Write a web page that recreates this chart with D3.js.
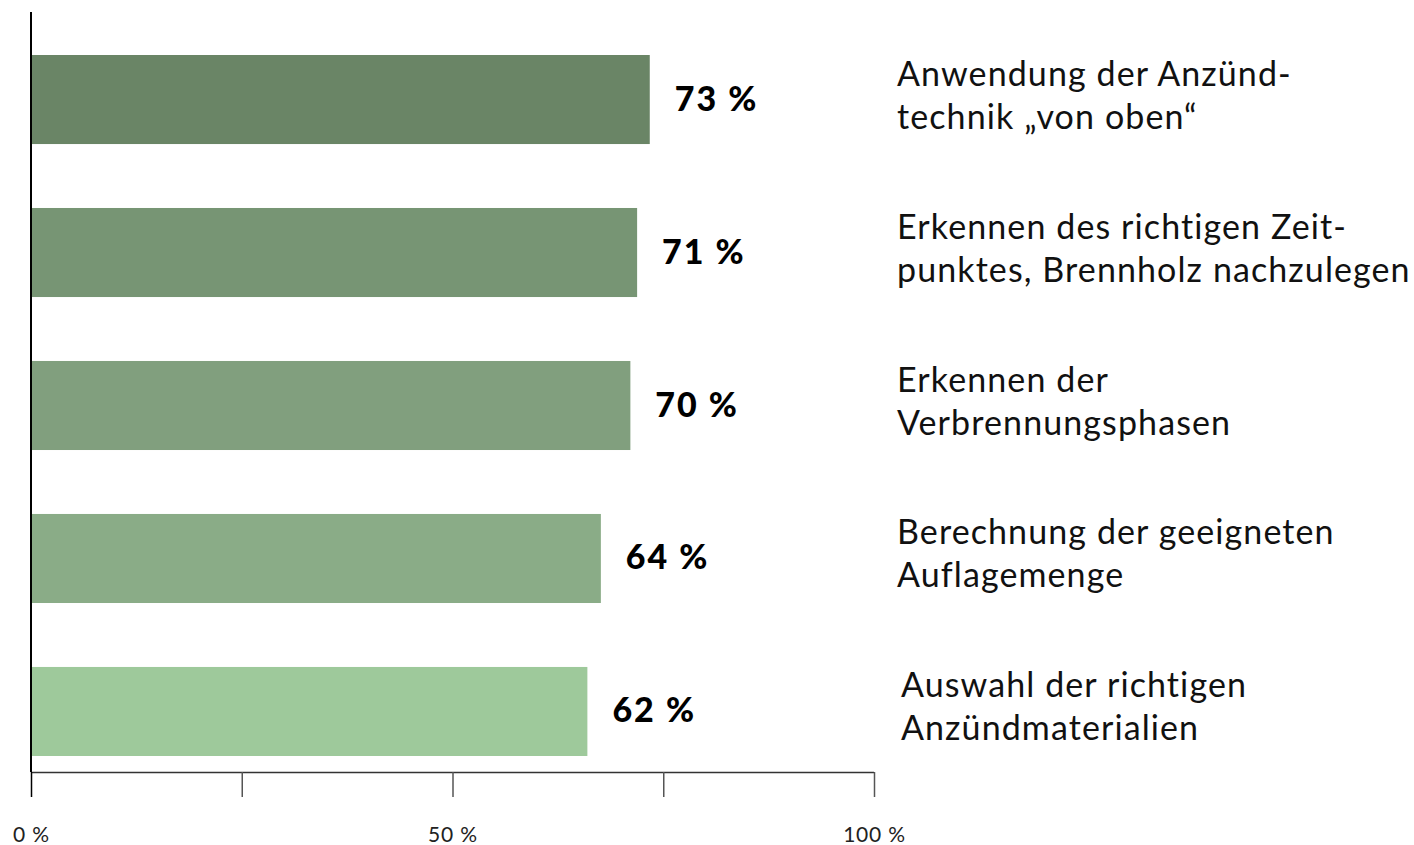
<!DOCTYPE html>
<html>
<head>
<meta charset="utf-8">
<script src="https://cdn.jsdelivr.net/npm/d3@7"></script>
<style>
  body { margin: 0; background: #fff; }
  text { font-family: Lato, "Noto Sans", sans-serif; }
</style>
</head>
<body>
<script>
// categories, two lines each
var categories = [
  ["Anwendung der Anzünd-", "technik „von oben“"],
  ["Erkennen des richtigen Zeit-", "punktes, Brennholz nachzulegen"],
  ["Erkennen der", "Verbrennungsphasen"],
  ["Berechnung der geeigneten", "Auflagemenge"],
  ["Auswahl der richtigen", "Anzündmaterialien"]
];
// printed shares
var shares = [73, 71, 70, 64, 62];
// bar lengths as drawn in the picture (in % of the axis)
var barLengths = [73.4, 71.9, 71.1, 67.6, 66.0];
var colors = ["#6a8566", "#779574", "#819f7e", "#8aac87", "#9ec99b"];
var tickValues = [0, 25, 50, 75, 100];
var tickLabels = {0: "0 %", 50: "50 %", 100: "100 %"};

var width = 1414, height = 845;

var svg = d3.select("body").append("svg")
  .attr("width", width)
  .attr("height", height)
  .attr("viewBox", [0, 0, width, height]);

var x = d3.scaleLinear()
  .domain([0, 100])
  .range([31, 874]);

var y = d3.scaleBand()
  .domain(d3.range(categories.length))
  .range([55, 756])
  .paddingInner(0.418)
  .paddingOuter(0);

// bars
svg.append("g")
  .selectAll("rect")
  .data(barLengths)
  .join("rect")
    .attr("x", x(0))
    .attr("y", (d, i) => y(i))
    .attr("width", d => x(d) - x(0))
    .attr("height", y.bandwidth())
    .attr("fill", (d, i) => colors[i]);

// value labels
svg.append("g")
  .selectAll("text")
  .data(shares)
  .join("text")
    .attr("x", (d, i) => x(barLengths[i]) + 25)
    .attr("y", (d, i) => y(i) + y.bandwidth() / 2 + 11)
    .attr("font-size", 34)
    .attr("font-weight", 900)
    .attr("letter-spacing", 2)
    .attr("fill", "#000")
    .text(d => d + " %");

// category labels
var cat = svg.append("g")
  .selectAll("text")
  .data(categories)
  .join("text")
    .attr("x", (d, i) => i === 4 ? 901 : 897)
    .attr("y", (d, i) => y(i) + y.bandwidth() / 2 - 14)
    .attr("font-size", 34)
    .attr("letter-spacing", 1.1)
    .attr("fill", "#111");

cat.selectAll("tspan")
  .data(d => d)
  .join("tspan")
    .attr("x", function() { return this.parentNode.getAttribute("x"); })
    .attr("dy", (d, i) => i === 0 ? 0 : 43)
    .text(d => d);

// x axis
var xAxis = g => g
  .attr("transform", `translate(0,772)`)
  .call(d3.axisBottom(x)
    .tickValues(tickValues)
    .tickSize(25)
    .tickFormat(d => tickLabels[d] || ""))
  .call(g => g.select(".domain")
    .attr("d", `M${x(0)},0.5H${x(100)}`)
    .attr("stroke", "#333")
    .attr("stroke-width", 1.5))
  .call(g => g.selectAll(".tick line")
    .attr("stroke", (d, i) => i === 0 ? "#000" : "#555")
    .attr("stroke-width", 1.5))
  .call(g => g.selectAll(".tick text")
    .attr("y", 70)
    .attr("dy", 0)
    .attr("font-family", "Lato, sans-serif")
    .attr("font-size", 21)
    .attr("letter-spacing", 0.8)
    .attr("fill", "#222"));

svg.append("g").call(xAxis);

// vertical baseline
svg.append("line")
  .attr("x1", x(0))
  .attr("x2", x(0))
  .attr("y1", 12)
  .attr("y2", 772)
  .attr("stroke", "#000")
  .attr("stroke-width", 2);
</script>
</body>
</html>
